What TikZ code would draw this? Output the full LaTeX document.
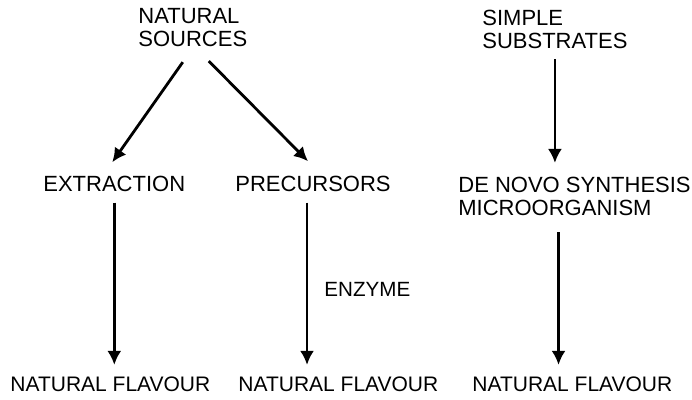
\documentclass[tikz,border=0pt]{standalone}
\usepackage{fontspec}
\setmainfont{Liberation Sans}
\usetikzlibrary{arrows.meta}

\begin{document}
\begin{tikzpicture}[x=0.5pt,y=0.5pt,>={Latex[length=7pt,width=7pt]},
  lbl/.style={inner sep=0pt,font=\fontsize{11}{11.5}\selectfont},
  arr/.style={->,line width=1.4pt}]
  \useasboundingbox (0,0) rectangle (692,400);
  % sources
  \node[lbl,align=left,anchor=north west] (src) at (138,392) {NATURAL\\SOURCES};
  \node[lbl,align=left,anchor=north west] (sub) at (482,390) {SIMPLE\\SUBSTRATES};
  % routes
  \node[lbl,anchor=base west] (ext) at (43,208) {EXTRACTION};
  \node[lbl,anchor=base west] (pre) at (235,208) {PRECURSORS};
  \node[lbl,align=left,anchor=north west] (dnv) at (458,223) {DE NOVO SYNTHESIS\\MICROORGANISM};
  \node[lbl,anchor=base west,font=\fontsize{10.3}{12}\selectfont] (enz) at (324,103) {ENZYME};
  % products
  \node[lbl,anchor=base west,font=\fontsize{10.5}{12}\selectfont] (fl1) at (10,8) {NATURAL FLAVOUR};
  \node[lbl,anchor=base west,font=\fontsize{10.5}{12}\selectfont] (fl2) at (238,8) {NATURAL FLAVOUR};
  \node[lbl,anchor=base west,font=\fontsize{10.5}{12}\selectfont] (fl3) at (472,8) {NATURAL FLAVOUR};
  % arrows
  \draw[arr] ([shift={(-10,-15)}]src.south) -- ([shift={(-2,14)}]ext.north);
  \draw[arr] ([shift={(16,-14)}]src.south) -- ([shift={(-5,15)}]pre.north);
  \draw[arr,shorten <=5pt,shorten >=7pt] (sub.south) -- (sub.south |- dnv.north);
  \draw[arr,shorten <=5pt,shorten >=6pt] (ext.south) -- (ext.south |- fl1.north);
  \draw[arr,shorten <=5pt,shorten >=6pt] ([xshift=-3pt]pre.south) -- ([xshift=-3pt]pre.south |- fl2.north);
  \draw[arr,shorten <=8pt,shorten >=6pt] ([xshift=-8pt]dnv.south) -- ([xshift=-8pt]dnv.south |- fl3.north);
\end{tikzpicture}
\end{document}
